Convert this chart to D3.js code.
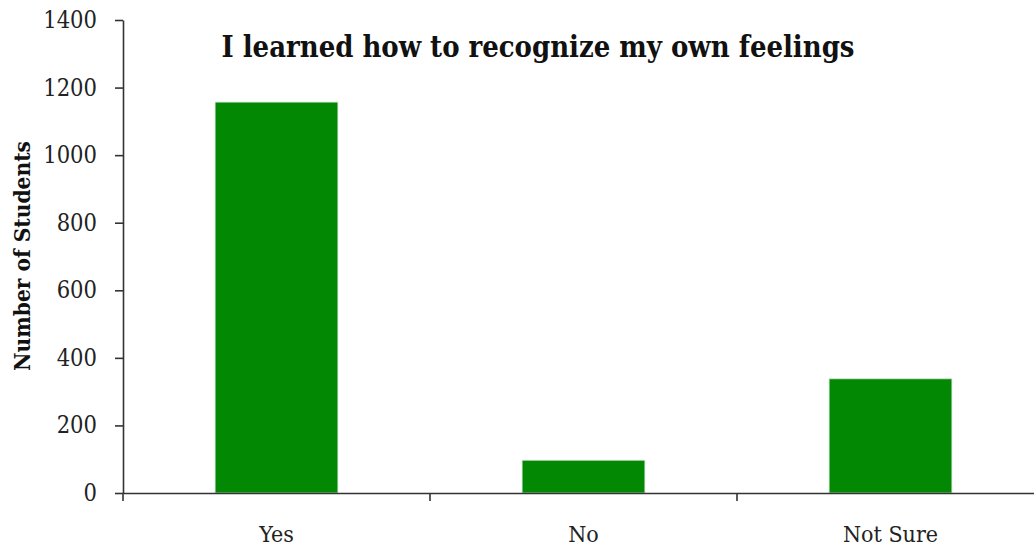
<!DOCTYPE html>
<html><head><meta charset="utf-8">
<script src="https://cdn.jsdelivr.net/npm/d3@7"></script>
<style>html,body{margin:0;padding:0;background:#fff;}svg{display:block;}</style>
</head><body>
<script>
const categories = ["Yes", "No", "Not Sure"];
const values = [1157, 97, 338];
const yTicks = [0, 200, 400, 600, 800, 1000, 1200, 1400];
const title = "I learned how to recognize my own feelings";
const yLabel = "Number of Students";

const W = 1034, H = 549;
const mLeft = 123, mRight = 1044, mTop = 20, mBottom = 493;
const svg = d3.select("body").append("svg").attr("width", W).attr("height", H);

const x = d3.scaleBand().domain(categories).range([mLeft, mRight]).paddingInner(0.6).paddingOuter(0.3);
const y = d3.scaleLinear().domain([0, 1400]).range([mBottom, mTop]);

svg.selectAll("rect.bar").data(values).enter().append("rect")
  .attr("class", "bar")
  .attr("x", (d, i) => x(categories[i]))
  .attr("width", x.bandwidth())
  .attr("y", d => y(d))
  .attr("height", d => y(0) - y(d))
  .attr("fill", "#038803")
  .attr("stroke", "#cfe3cf").attr("stroke-width", 0.8);

const font = "'DejaVu Serif Condensed', 'DejaVu Serif', serif";
const yAxis = svg.append("g").attr("transform", `translate(${mLeft},0)`)
  .call(d3.axisLeft(y).tickValues(yTicks).tickFormat(d3.format("d")).tickSizeInner(8).tickSizeOuter(0).tickPadding(18));
yAxis.selectAll("text").attr("font-family", font).attr("font-size", 23.5).attr("fill", "#222");
yAxis.selectAll("line,path").attr("stroke", "#333").attr("stroke-width", 1.6);

const xAxis = svg.append("g").attr("transform", `translate(0,${mBottom})`)
  .call(d3.axisBottom(x).tickSize(0).tickPadding(33));
xAxis.select("path").attr("stroke", "#333").attr("stroke-width", 1.6);
xAxis.selectAll("text").attr("font-family", font).attr("font-size", 23).attr("fill", "#222");
const step = x.step();
xAxis.selectAll("line.bt").data(categories).enter().append("line").attr("class", "bt")
  .attr("x1", c => x(c) - step * x.paddingInner() / 2)
  .attr("x2", c => x(c) - step * x.paddingInner() / 2)
  .attr("y1", 0).attr("y2", 8).attr("stroke", "#333").attr("stroke-width", 1.6);

svg.append("text").attr("x", 538).attr("y", 57).attr("text-anchor", "middle")
  .attr("font-family", font).attr("font-weight", "bold").attr("font-size", 30)
  .attr("textLength", 633).attr("lengthAdjust", "spacingAndGlyphs")
  .attr("fill", "#111").text(title);

svg.append("text").attr("transform", "translate(30,256) rotate(-90)").attr("text-anchor", "middle")
  .attr("font-family", font).attr("font-weight", "bold").attr("font-size", 22.5)
  .attr("fill", "#111").text(yLabel);
</script>
</body></html>
